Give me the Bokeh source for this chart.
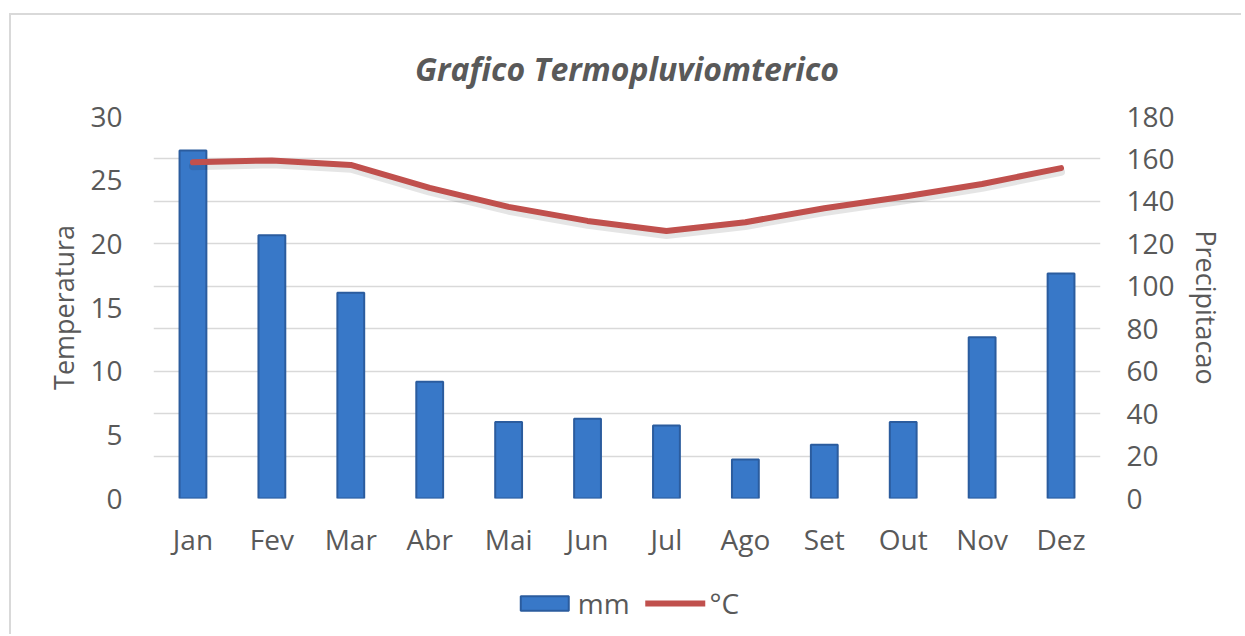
from bokeh.plotting import figure
from bokeh.layouts import column
from bokeh.models import Range1d, LinearAxis, FixedTicker, Legend, LegendItem, ColumnDataSource
from bokeh.embed import file_html
from bokeh.resources import INLINE

months = ["Jan", "Fev", "Mar", "Abr", "Mai", "Jun", "Jul", "Ago", "Set", "Out", "Nov", "Dez"]
precip_mm = [164, 124, 97, 55, 36, 37.6, 34.4, 18.4, 25.3, 36, 76, 106]
temp_c = [26.4, 26.55, 26.2, 24.4, 22.9, 21.8, 21.0, 21.7, 22.8, 23.7, 24.7, 25.95]
left_ticks = [0, 5, 10, 15, 20, 25, 30]
right_ticks = [0, 20, 40, 60, 80, 100, 120, 140, 160, 180]

FONT = "Open Sans"
TXT = "#595959"
BAR_FILL = "#3878c8"
BAR_LINE = "#2b5c9e"
LINE_COL = "#c0504d"

src = ColumnDataSource(dict(m=months, mm=precip_mm, t=temp_c))

p = figure(x_range=months, y_range=Range1d(0, 30), width=1230, height=557,
           output_backend="svg", toolbar_location=None,
           min_border_left=142, min_border_right=141, min_border_top=101, min_border_bottom=74)
p.extra_y_ranges = {"mm": Range1d(0, 180), "shadow": Range1d(0.3, 30.3)}
p.outline_line_color = None
p.background_fill_color = "white"

p.title.text = "Grafico Termopluviomterico"
p.title.text_font = FONT
p.title.text_font_size = "32px"
p.title.text_font_style = "bold italic"
p.title.text_color = TXT
p.title.align = "center"
p.title.standoff = 54

p.xgrid.grid_line_color = None
p.ygrid.y_range_name = "mm"
p.ygrid.ticker = FixedTicker(ticks=right_ticks)
p.ygrid.grid_line_color = "#d9d9d9"
p.ygrid.grid_line_width = 1.5

bars = p.vbar(x="m", top="mm", width=0.34, source=src, y_range_name="mm",
              fill_color=BAR_FILL, line_color=BAR_LINE, line_width=2)
p.line(x="m", y="t", source=src, y_range_name="shadow", line_color="#000000",
       line_alpha=0.1, line_width=8, line_join="round", line_cap="round")
ln = p.line(x="m", y="t", source=src, line_color=LINE_COL, line_width=6,
            line_join="round", line_cap="round")

la = p.yaxis[0]
la.ticker = FixedTicker(ticks=left_ticks)
la.axis_label = "Temperatura"

ra = LinearAxis(y_range_name="mm", ticker=FixedTicker(ticks=right_ticks), axis_label="Precipitacao")
p.add_layout(ra, "right")

for ax in [la, ra]:
    ax.axis_line_color = None
    ax.major_tick_line_color = None
    ax.minor_tick_line_color = None
    ax.major_label_text_font = FONT
    ax.major_label_text_font_size = "28px"
    ax.major_label_text_color = TXT
    ax.axis_label_text_font = FONT
    ax.axis_label_text_font_size = "27px"
    ax.axis_label_text_font_style = "normal"
    ax.axis_label_text_color = TXT
la.major_label_standoff = 25
ra.major_label_standoff = 20
la.axis_label_standoff = 5
ra.axis_label_standoff = 10

xa = p.xaxis[0]
xa.axis_line_color = None
xa.major_tick_line_color = None
xa.major_label_text_font = FONT
xa.major_label_text_font_size = "28px"
xa.major_label_text_color = TXT
xa.major_label_standoff = 15

# legend strip below the chart (hidden copies of the series supply the legend glyphs)
lf = figure(width=1230, height=62, x_range=months, y_range=Range1d(0, 1),
            output_backend="svg", toolbar_location=None, x_axis_type=None, y_axis_type=None,
            min_border_left=64, min_border_right=0, min_border_top=0, min_border_bottom=0)
lf.outline_line_color = None
lf.grid.grid_line_color = None
lb = lf.vbar(x="m", top="mm", width=0.34, source=src, fill_color=BAR_FILL,
             line_color=BAR_LINE, line_width=2, visible=False)
ll = lf.line(x="m", y="t", source=src, line_color=LINE_COL, line_width=6,
             line_cap="round", visible=False)
legend = Legend(items=[LegendItem(label="mm", renderers=[lb]),
                       LegendItem(label="°C", renderers=[ll])],
                orientation="horizontal", location="center",
                label_text_font=FONT, label_text_font_size="28px", label_text_color=TXT,
                glyph_width=60, glyph_height=18, spacing=16, label_standoff=4, padding=4,
                inactive_fill_alpha=0, border_line_color=None, background_fill_alpha=0, margin=0)
lf.add_layout(legend, "center")

layout = column(p, lf, spacing=0,
                styles={"margin-left": "9px", "margin-top": "13px",
                        "border-left": "2px solid #d9d9d9", "border-top": "2px solid #d9d9d9"})
open("out.html", "w").write(file_html(layout, INLINE))
